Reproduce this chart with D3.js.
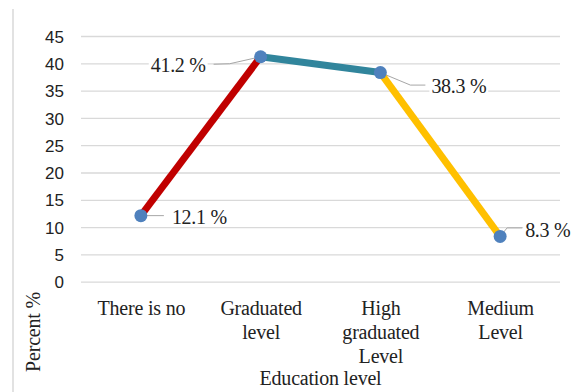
<!DOCTYPE html>
<html>
<head>
<meta charset="utf-8">
<script src="https://cdn.jsdelivr.net/npm/d3@7"></script>
<style>
  html, body { margin: 0; padding: 0; background: #fff; }
  svg { display: block; }
</style>
</head>
<body>
<svg id="chart" width="584" height="392"></svg>
<script>
// ---- data ----
const categories = ["There is no", "Graduated level", "High graduated Level", "Medium Level"];
const categoryLines = [["There is no"], ["Graduated", "level"], ["High", "graduated", "Level"], ["Medium", "Level"]];
const percentValues = [12.1, 41.2, 38.3, 8.3];
const valueLabels = ["12.1 %", "41.2 %", "38.3 %", "8.3 %"];
const segmentColors = ["#C00000", "#31859C", "#FFC000"];
const yTicks = [0, 5, 10, 15, 20, 25, 30, 35, 40, 45];
const xTitle = "Education level";
const yTitle = "Percent %";

// ---- layout ----
const svg = d3.select("#chart");
const plotLeft = 81, plotRight = 560, plotTop = 36, plotBottom = 281.7;
const serif = "'Liberation Serif', 'Times New Roman', serif";
const sans = "'Liberation Sans', Arial, sans-serif";
const textColor = "#222";

const x = d3.scalePoint().domain(categories).range([plotLeft, plotRight]).padding(0.5);
const y = d3.scaleLinear().domain([0, 45]).range([plotBottom, plotTop]);

// chart frame left edge
svg.append("line").attr("x1", 13).attr("x2", 13).attr("y1", 9).attr("y2", 392)
  .attr("stroke", "#d9d9d9").attr("stroke-width", 1.5);

// gridlines
const yAxis = d3.axisLeft(y).tickValues(yTicks).tickSize(-(plotRight - plotLeft)).tickFormat(d3.format("d"));
const gy = svg.append("g").attr("transform", `translate(${plotLeft},0)`).call(yAxis);
gy.select(".domain").remove();
gy.selectAll(".tick line").attr("stroke", "#d9d9d9").attr("stroke-width", 1.3);
gy.selectAll(".tick text")
  .attr("x", -(plotLeft - 64)).attr("dy", "0.36em")
  .attr("font-family", sans).attr("font-size", 17).attr("fill", textColor);

// category labels
const xAxis = d3.axisBottom(x).tickSize(0).tickFormat("");
const gx = svg.append("g").attr("transform", `translate(0,${plotBottom})`).call(xAxis);
gx.select(".domain").remove();
gx.selectAll(".tick").each(function(d, i) {
  const t = d3.select(this).append("text")
    .attr("text-anchor", "middle")
    .attr("font-family", serif).attr("font-size", 20).attr("fill", textColor)
    .attr("letter-spacing", "-0.2px");
  categoryLines[i].forEach((line, j) => {
    t.append("tspan").attr("x", 0).attr("y", 33.5 + j * 23.8).text(line);
  });
});

// axis titles
svg.append("text").attr("x", (plotLeft + plotRight) / 2).attr("y", 385)
  .attr("text-anchor", "middle").attr("font-family", serif).attr("font-size", 20)
  .attr("fill", textColor).attr("letter-spacing", "-0.2px").text(xTitle);
svg.append("text").attr("transform", "translate(40,332) rotate(-90)")
  .attr("text-anchor", "middle").attr("font-family", serif).attr("font-size", 20)
  .attr("fill", textColor).attr("letter-spacing", "-0.2px").text(yTitle);

// data points
const pts = categories.map((c, i) => ({ cat: c, v: percentValues[i], px: x(c), py: y(percentValues[i]) }));

// leader lines + labels (placement styles)
const labelStyle = [
  { dx: 31, dy: 8.5, anchor: "start", leader: p => [[p.px, p.py], [p.px + 23, p.py]] },
  { dx: -55, dy: 15.5, anchor: "end", leader: p => [[p.px, p.py], [p.px - 31, p.py + 7], [p.px - 47, p.py + 7.5]] },
  { dx: 51, dy: 20.7, anchor: "start", leader: p => [[p.px, p.py], [p.px + 30, p.py + 12.5], [p.px + 45, p.py + 12.5]] },
  { dx: 25, dy: 0.5, anchor: "start", leader: p => [[p.px, p.py], [p.px + 7, p.py - 8.5], [p.px + 22, p.py - 8.5]] }
];

const labelLayer = svg.append("g");
pts.forEach((p, i) => {
  const s = labelStyle[i];
  const g = labelLayer.append("g");
  const t = g.append("text")
    .attr("x", p.px + s.dx).attr("y", p.py + s.dy)
    .attr("text-anchor", s.anchor)
    .attr("font-family", serif).attr("font-size", 20).attr("fill", textColor)
    .attr("letter-spacing", "-0.3px")
    .text(valueLabels[i]);
  const bb = t.node().getBBox();
  g.insert("rect", "text").attr("x", bb.x - 2).attr("y", bb.y + 2).attr("width", bb.width + 4).attr("height", bb.height - 4)
    .attr("fill", "#fff");
  svg.append("path").attr("d", d3.line()(s.leader(p)))
    .attr("fill", "none").attr("stroke", "#a6a6a6").attr("stroke-width", 1);
});

// colored segments
for (let i = 0; i < pts.length - 1; i++) {
  svg.append("path")
    .attr("d", d3.line()([[pts[i].px, pts[i].py], [pts[i + 1].px, pts[i + 1].py]]))
    .attr("stroke", segmentColors[i]).attr("stroke-width", 7).attr("fill", "none");
}

// markers
svg.append("g").selectAll("circle").data(pts).join("circle")
  .attr("cx", d => d.px).attr("cy", d => d.py).attr("r", 6.5)
  .attr("fill", "#4F81BD");
</script>
</body>
</html>
